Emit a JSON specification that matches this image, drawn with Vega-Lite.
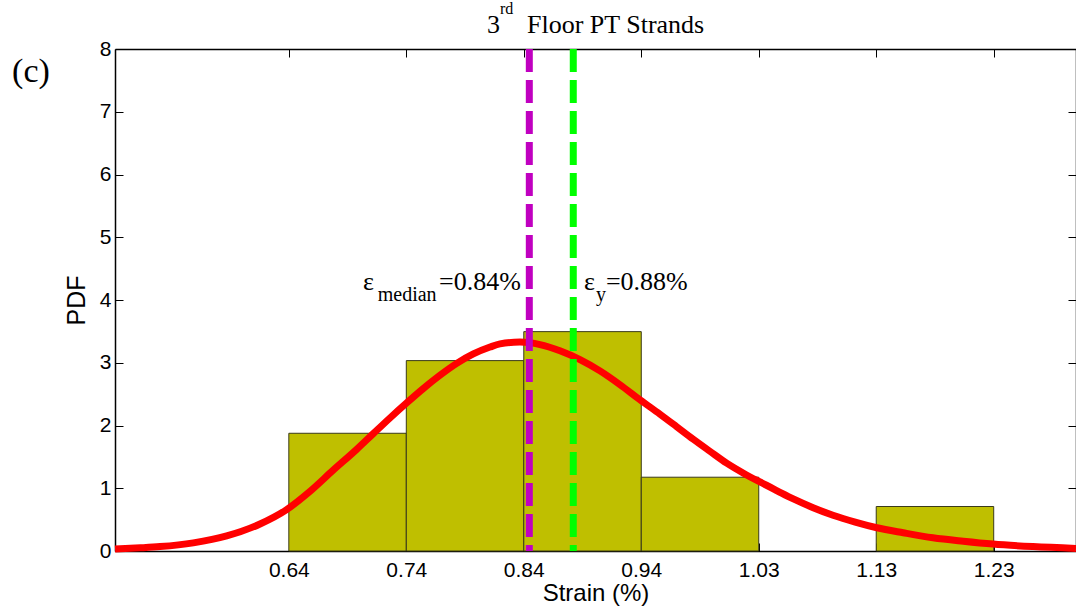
{
  "$schema": "https://vega.github.io/schema/vega-lite/v6.json",
  "width": 961,
  "height": 502,
  "autosize": {"type": "none"},
  "padding": {"left": 115, "top": 49, "right": 0, "bottom": 60},
  "background": "white",
  "config": {
    "view": {"stroke": null},
    "axis": {
      "grid": false,
      "domainColor": "black",
      "tickColor": "black",
      "labelColor": "black",
      "titleColor": "black",
      "labelFont": "Liberation Sans",
      "titleFont": "Liberation Sans",
      "titleFontWeight": "normal",
      "domainWidth": 1.5,
      "tickWidth": 1
    }
  },
  "datasets": {
    "bins": [
      {"lo": 0.6435, "hi": 0.7413, "pdf": 1.876},
      {"lo": 0.7413, "hi": 0.8391, "pdf": 3.034},
      {"lo": 0.8391, "hi": 0.9369, "pdf": 3.496},
      {"lo": 0.9369, "hi": 1.0347, "pdf": 1.176},
      {"lo": 1.1325, "hi": 1.2303, "pdf": 0.709}
    ],
    "curve": [
      {"strain": 0.4988, "pdf": 0.03},
      {"strain": 0.52, "pdf": 0.05},
      {"strain": 0.5363, "pdf": 0.07},
      {"strain": 0.564, "pdf": 0.13},
      {"strain": 0.5918, "pdf": 0.24},
      {"strain": 0.6195, "pdf": 0.43},
      {"strain": 0.6417, "pdf": 0.66},
      {"strain": 0.6611, "pdf": 0.95},
      {"strain": 0.68, "pdf": 1.28},
      {"strain": 0.70, "pdf": 1.62},
      {"strain": 0.7138, "pdf": 1.87},
      {"strain": 0.7277, "pdf": 2.12},
      {"strain": 0.7416, "pdf": 2.36},
      {"strain": 0.7555, "pdf": 2.59},
      {"strain": 0.7693, "pdf": 2.80},
      {"strain": 0.7833, "pdf": 2.99},
      {"strain": 0.7971, "pdf": 3.14},
      {"strain": 0.811, "pdf": 3.25},
      {"strain": 0.8193, "pdf": 3.30},
      {"strain": 0.8359, "pdf": 3.33},
      {"strain": 0.8526, "pdf": 3.29},
      {"strain": 0.8692, "pdf": 3.19},
      {"strain": 0.8859, "pdf": 3.05},
      {"strain": 0.9025, "pdf": 2.87},
      {"strain": 0.9192, "pdf": 2.65},
      {"strain": 0.9358, "pdf": 2.41},
      {"strain": 0.9525, "pdf": 2.18},
      {"strain": 0.9664, "pdf": 1.98},
      {"strain": 0.9802, "pdf": 1.78},
      {"strain": 0.994, "pdf": 1.59},
      {"strain": 1.008, "pdf": 1.40},
      {"strain": 1.022, "pdf": 1.24},
      {"strain": 1.0357, "pdf": 1.10},
      {"strain": 1.05, "pdf": 0.96},
      {"strain": 1.0635, "pdf": 0.83},
      {"strain": 1.08, "pdf": 0.69},
      {"strain": 1.0965, "pdf": 0.57},
      {"strain": 1.115, "pdf": 0.46},
      {"strain": 1.133, "pdf": 0.37},
      {"strain": 1.155, "pdf": 0.29},
      {"strain": 1.1797, "pdf": 0.21},
      {"strain": 1.205, "pdf": 0.155},
      {"strain": 1.2297, "pdf": 0.11},
      {"strain": 1.263, "pdf": 0.07},
      {"strain": 1.2988, "pdf": 0.04}
    ],
    "lines": [
      {"strain": 0.8437, "series": "median"},
      {"strain": 0.8803, "series": "yield"}
    ],
    "mainText": [
      {"x": 0.7053, "y": 4.165, "t": "ε"},
      {"x": 0.7685, "y": 4.165, "t": "=0.84%"},
      {"x": 0.8892, "y": 4.165, "t": "ε"},
      {"x": 0.9075, "y": 4.165, "t": "=0.88%"},
      {"x": 0.8085, "y": 8.259, "t": "3"},
      {"x": 0.8418, "y": 8.259, "t": "Floor PT Strands"}
    ],
    "subText": [
      {"x": 0.7175, "y": 3.979, "t": "median"},
      {"x": 0.8992, "y": 3.979, "t": "y"}
    ],
    "supText": [
      {"x": 0.8193, "y": 8.56, "t": "rd"}
    ],
    "panel": [
      {"x": 0.4131, "y": 7.478, "t": "(c)"}
    ]
  },
  "layer": [
    {
      "data": {"name": "bins"},
      "mark": {"type": "rect", "fill": "#BFBF00", "stroke": "#3a3a1a", "strokeWidth": 1},
      "encoding": {
        "x": {
          "field": "lo", "type": "quantitative",
          "scale": {"domain": [0.4988, 1.2988], "nice": false, "zero": false},
          "axis": {
            "orient": "bottom",
            "values": [0.6435, 0.7413, 0.8391, 0.9369, 1.0347, 1.1325, 1.2303],
            "format": ".2f",
            "labelFontSize": 21,
            "tickSize": -8,
            "labelPadding": 16,
            "title": "Strain (%)",
            "titleFontSize": 24,
            "titlePadding": 1
          }
        },
        "x2": {"field": "hi"},
        "y": {
          "field": "pdf", "type": "quantitative",
          "scale": {"domain": [0, 8], "nice": false, "zero": true},
          "axis": {
            "orient": "left",
            "values": [0, 1, 2, 3, 4, 5, 6, 7, 8],
            "labelFontSize": 21,
            "tickSize": -8,
            "labelPadding": 12,
            "title": "PDF",
            "titleFontSize": 25,
            "titlePadding": 10
          }
        },
        "y2": {"datum": 0}
      }
    },
    {
      "data": {"name": "curve"},
      "mark": {"type": "line", "color": "#FF0000", "strokeWidth": 7, "interpolate": "monotone"},
      "encoding": {
        "x": {
          "field": "strain", "type": "quantitative",
          "scale": {"domain": [0.4988, 1.2988], "nice": false, "zero": false},
          "axis": {
            "orient": "top",
            "values": [0.6435, 0.7413, 0.8391, 0.9369, 1.0347, 1.1325, 1.2303],
            "labels": false,
            "tickSize": -8,
            "title": null
          }
        },
        "y": {
          "field": "pdf", "type": "quantitative",
          "scale": {"domain": [0, 8], "nice": false, "zero": true},
          "axis": {
            "orient": "right",
            "values": [0, 1, 2, 3, 4, 5, 6, 7, 8],
            "labels": false,
            "tickSize": -8,
            "title": null
          }
        }
      }
    },
    {
      "data": {"name": "lines"},
      "mark": {"type": "rule", "strokeWidth": 7, "strokeDash": [23, 8]},
      "encoding": {
        "x": {
          "field": "strain", "type": "quantitative",
          "scale": {"domain": [0.4988, 1.2988], "nice": false, "zero": false},
          "axis": null
        },
        "color": {
          "field": "series", "type": "nominal",
          "scale": {"domain": ["median", "yield"], "range": ["#C000C0", "#00FF00"]},
          "legend": null
        }
      }
    },
    {
      "data": {"name": "mainText"},
      "mark": {"type": "text", "font": "Liberation Serif", "fontSize": 26, "align": "left", "baseline": "alphabetic", "color": "black"},
      "encoding": {
        "x": {"field": "x", "type": "quantitative", "scale": {"domain": [0.4988, 1.2988], "nice": false, "zero": false}, "axis": null},
        "y": {"field": "y", "type": "quantitative", "scale": {"domain": [0, 8], "nice": false, "zero": true}, "axis": null},
        "text": {"field": "t"}
      }
    },
    {
      "data": {"name": "subText"},
      "mark": {"type": "text", "font": "Liberation Serif", "fontSize": 20, "align": "left", "baseline": "alphabetic", "color": "black"},
      "encoding": {
        "x": {"field": "x", "type": "quantitative", "scale": {"domain": [0.4988, 1.2988], "nice": false, "zero": false}, "axis": null},
        "y": {"field": "y", "type": "quantitative", "scale": {"domain": [0, 8], "nice": false, "zero": true}, "axis": null},
        "text": {"field": "t"}
      }
    },
    {
      "data": {"name": "supText"},
      "mark": {"type": "text", "font": "Liberation Serif", "fontSize": 16, "align": "left", "baseline": "alphabetic", "color": "black"},
      "encoding": {
        "x": {"field": "x", "type": "quantitative", "scale": {"domain": [0.4988, 1.2988], "nice": false, "zero": false}, "axis": null},
        "y": {"field": "y", "type": "quantitative", "scale": {"domain": [0, 8], "nice": false, "zero": true}, "axis": null},
        "text": {"field": "t"}
      }
    },
    {
      "data": {"name": "panel"},
      "mark": {"type": "text", "font": "Liberation Serif", "fontSize": 34, "align": "left", "baseline": "alphabetic", "color": "black"},
      "encoding": {
        "x": {"field": "x", "type": "quantitative", "scale": {"domain": [0.4988, 1.2988], "nice": false, "zero": false}, "axis": null},
        "y": {"field": "y", "type": "quantitative", "scale": {"domain": [0, 8], "nice": false, "zero": true}, "axis": null},
        "text": {"field": "t"}
      }
    }
  ],
  "resolve": {"axis": {"x": "independent", "y": "independent"}}
}
